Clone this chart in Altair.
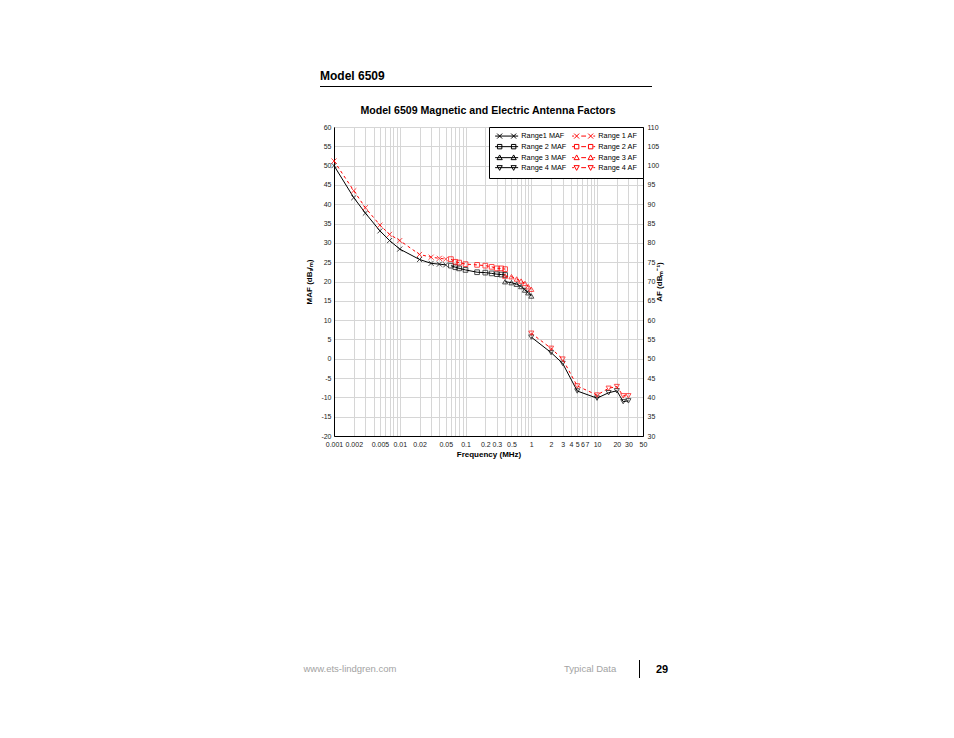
import altair as alt
import pandas as pd

# ---------------- data ----------------
freq_r1 = [0.001, 0.002, 0.003, 0.005, 0.007, 0.01, 0.02, 0.03, 0.04, 0.05]
maf_r1 = [50.0, 41.7, 37.7, 33.1, 30.6, 28.4, 25.7, 24.7, 24.5, 24.3]
af_r1 = [101.2, 93.5, 89.1, 84.6, 82.2, 80.6, 77.0, 76.3, 76.0, 75.8]

freq_r2 = [0.06, 0.07, 0.08, 0.1, 0.15, 0.2, 0.25, 0.3, 0.35, 0.4]
maf_r2 = [24.1, 23.7, 23.4, 23.0, 22.4, 22.3, 22.1, 21.9, 21.8, 21.7]
af_r2 = [75.8, 75.1, 74.9, 74.5, 74.3, 74.1, 73.8, 73.4, 73.4, 73.2]

freq_r3 = [0.4, 0.5, 0.6, 0.7, 0.8, 0.9, 1.0]
maf_r3 = [19.95, 19.7, 19.3, 18.7, 17.8, 17.1, 16.25]
af_r3 = [71.4, 71.25, 70.65, 70.1, 69.5, 68.65, 68.0]

freq_r4 = [1, 2, 3, 5, 10, 15, 20, 25, 30]
maf_r4 = [5.6, 1.6, -1.2, -8.35, -10.2, -8.8, -8.3, -11.1, -10.9]
af_r4 = [56.6, 52.7, 49.9, 42.95, 40.6, 42.35, 42.8, 40.4, 40.4]

series_maf = ["Range1 MAF", "Range 2 MAF", "Range 3 MAF", "Range 4 MAF"]
series_af = ["Range 1 AF", "Range 2 AF", "Range 3 AF", "Range 4 AF"]

x_tick_labels = ["0.001", "0.002", "0.005", "0.01", "0.02", "0.05", "0.1", "0.2",
                 "0.3", "0.5", "1", "2", "3", "4", "5", "6", "7", "10", "20", "30", "50"]
y_left_ticks = list(range(-20, 61, 5))
y_right_ticks = list(range(30, 111, 5))

# ---------------- tables ----------------
ranges = [(1, freq_r1, maf_r1, af_r1), (2, freq_r2, maf_r2, af_r2),
          (3, freq_r3, maf_r3, af_r3), (4, freq_r4, maf_r4, af_r4)]
rows = []
for r, fr, m, a in ranges:
    for f, mv, av in zip(fr, m, a):
        rows.append({"range": r, "freq": f, "maf": mv, "af": av})
df = pd.DataFrame(rows)

# legend entries fill column by column: MAF column, then AF column
series_order = series_maf + series_af
leg_rows = []
for (r, fr, m, a), sm in zip(ranges, series_maf):
    leg_rows.append({"series": sm, "freq": fr[0], "maf": m[0]})
for (r, fr, m, a), sa in zip(ranges, series_af):
    leg_rows.append({"series": sa, "freq": fr[0], "maf": m[0]})
leg_df = pd.DataFrame(leg_rows)

# ---------------- styling ----------------
FONT = "Liberation Sans, Arial, sans-serif"
RED = "#ff0000"
GRID = "#d6d6d6"
HY = "replace(datum.label, '\u2212', '-')"

grid_vals = [round(m * 10 ** e, 6) for e in range(-3, 2) for m in range(1, 10) if m * 10 ** e <= 50]
label_list = ",".join("'" + s + "'" for s in x_tick_labels)

x_axis = alt.Axis(values=grid_vals, format="~g",
                  labelExpr="indexof([" + label_list + "], datum.label) >= 0 ? datum.label : ''",
                  ticks=False, grid=True, gridColor=GRID, gridWidth=1, domainColor="black",
                  labelFont=FONT, labelFontSize=7, labelColor="#222", labelPadding=4,
                  labelOverlap=False, labelFlush=False,
                  title="Frequency (MHz)", titleFont=FONT, titleFontSize=8, titleFontWeight="bold",
                  titleColor="black", titlePadding=3)
yl_axis = alt.Axis(values=y_left_ticks, labelExpr=HY, ticks=False, grid=True, gridColor=GRID,
                   domainColor="black",
                   labelFont=FONT, labelFontSize=7, labelColor="#222", labelPadding=3,
                   labelOverlap=False, labelFlush=False,
                   title="MAF (dBₛ/ₘ)", titleFont=FONT, titleFontSize=8, titleFontWeight="bold",
                   titleColor="black", titlePadding=7)
yr_axis = alt.Axis(orient="right", values=y_right_ticks, ticks=False, grid=False, domainColor="black",
                   labelFont=FONT, labelFontSize=7, labelColor="#222", labelPadding=4,
                   labelOverlap=False, labelFlush=False,
                   title="AF (dBₘ⁻¹)", titleFont=FONT, titleFontSize=8, titleFontWeight="bold",
                   titleColor="black", titlePadding=5, titleAngle=270)

X = alt.X("freq:Q", scale=alt.Scale(type="log", domain=[0.001, 50], nice=False), axis=x_axis)
YL = alt.Y("maf:Q", scale=alt.Scale(domain=[-20, 60], nice=False, zero=False), axis=yl_axis)
YR = alt.Y("af:Q", scale=alt.Scale(domain=[30, 110], nice=False, zero=False), axis=yr_axis)

XPATH = "M-1,-1L1,1M-1,1L1,-1"
plot_shapes = {1: XPATH, 2: "square", 3: "triangle-up", 4: "triangle-down"}
plot_sizes = {1: 26, 2: 22, 3: 26, 4: 26}


def marker(kind, c):
    if kind == 1:
        return f"M{c-1.25},-1.25L{c+1.25},1.25M{c-1.25},1.25L{c+1.25},-1.25"
    if kind == 2:
        return f"M{c-1.1},-1.1H{c+1.1}V1.1H{c-1.1}Z"
    if kind == 3:
        return f"M{c},-1.35L{c+1.3},1.0L{c-1.3},1.0Z"
    return f"M{c},1.35L{c+1.3},-1.0L{c-1.3},-1.0Z"


maf_paths, af_paths = [], []
for r in range(1, 5):
    mk = marker(r, 1) + marker(r, 8)
    maf_paths.append("M-1.25,0H10.25" + mk)
    af_paths.append("M-1.25,0H-0.35M3.3,0H5.7M9.35,0H10.25" + mk)
leg_paths = maf_paths + af_paths
leg_colors = ["black"] * 4 + [RED] * 4

legend = alt.Legend(title=None, orient="top-right", offset=0, columns=2, columnPadding=3,
                    rowPadding=1, padding=5, strokeColor="black", fillColor="white",
                    labelFont=FONT, labelFontSize=7.3, labelColor="black", labelOffset=20,
                    symbolSize=16, symbolStrokeWidth=1, symbolOpacity=1)

# ---------------- layers ----------------
maf_line = alt.Chart(df).mark_line(color="black", strokeWidth=1).encode(x=X, y=YL, detail="range:N")
af_line = alt.Chart(df).mark_line(color=RED, strokeWidth=1, strokeDash=[3, 3]).encode(
    x=X, y=YR, detail="range:N")

maf_pts = [alt.Chart(df).transform_filter(alt.datum.range == r).mark_point(
    shape=plot_shapes[r], size=plot_sizes[r], color="black", filled=False, strokeWidth=1
).encode(x=X, y=YL) for r in range(1, 5)]
af_pts = [alt.Chart(df).transform_filter(alt.datum.range == r).mark_point(
    shape=plot_shapes[r], size=plot_sizes[r], color=RED, filled=False, strokeWidth=1
).encode(x=X, y=YR) for r in range(1, 5)]

legend_layer = alt.Chart(leg_df).mark_point(opacity=0, filled=False, strokeWidth=1).encode(
    x=X, y=YL,
    color=alt.Color("series:N", scale=alt.Scale(domain=series_order, range=leg_colors), legend=legend),
    shape=alt.Shape("series:N", scale=alt.Scale(domain=series_order, range=leg_paths), legend=legend),
)

A = alt.layer(maf_line, *maf_pts, legend_layer)
B = alt.layer(af_line, *af_pts)


def text_layer(txt, x, y, size, weight, color, font, align="left"):
    return alt.Chart(pd.DataFrame({"t": [txt]})).mark_text(
        align=align, baseline="alphabetic", fontSize=size, fontWeight=weight, color=color, font=font
    ).encode(x=alt.value(x), y=alt.value(y), text="t:N")


one = pd.DataFrame({"k": [0]})
title = text_layer("Model 6509 Magnetic and Electric Antenna Factors", 154, -12.7, 10.6, "bold",
                   "black", FONT, align="center")
header = text_layer("Model 6509", -14, -47, 12, "bold", "black", FONT)
header_rule = alt.Chart(one).mark_rule(color="black", strokeWidth=1).encode(
    x=alt.value(-14), x2=alt.value(318), y=alt.value(-40.5))
foot1 = text_layer("www.ets-lindgren.com", -30.5, 545, 9.5, "normal", "#a3a3a3", FONT)
foot2 = text_layer("Typical Data", 230, 545, 9.5, "normal", "#a3a3a3", FONT)
foot_bar = alt.Chart(one).mark_rule(color="black", strokeWidth=1).encode(
    x=alt.value(305.5), y=alt.value(533), y2=alt.value(551))
foot3 = text_layer("29", 322, 546, 11, "bold", "black", FONT)

chart = alt.layer(A, B, title, header, header_rule, foot1, foot2, foot_bar, foot3).resolve_scale(
    y="independent"
).properties(
    width=309, height=309,
    autosize=alt.AutoSizeParams(type="none"),
    padding={"left": 326, "top": 119, "right": 290, "bottom": 260},
).configure_view(stroke="black", strokeWidth=1)

chart.save("out.html", embed_options={"renderer": "svg", "actions": False})
